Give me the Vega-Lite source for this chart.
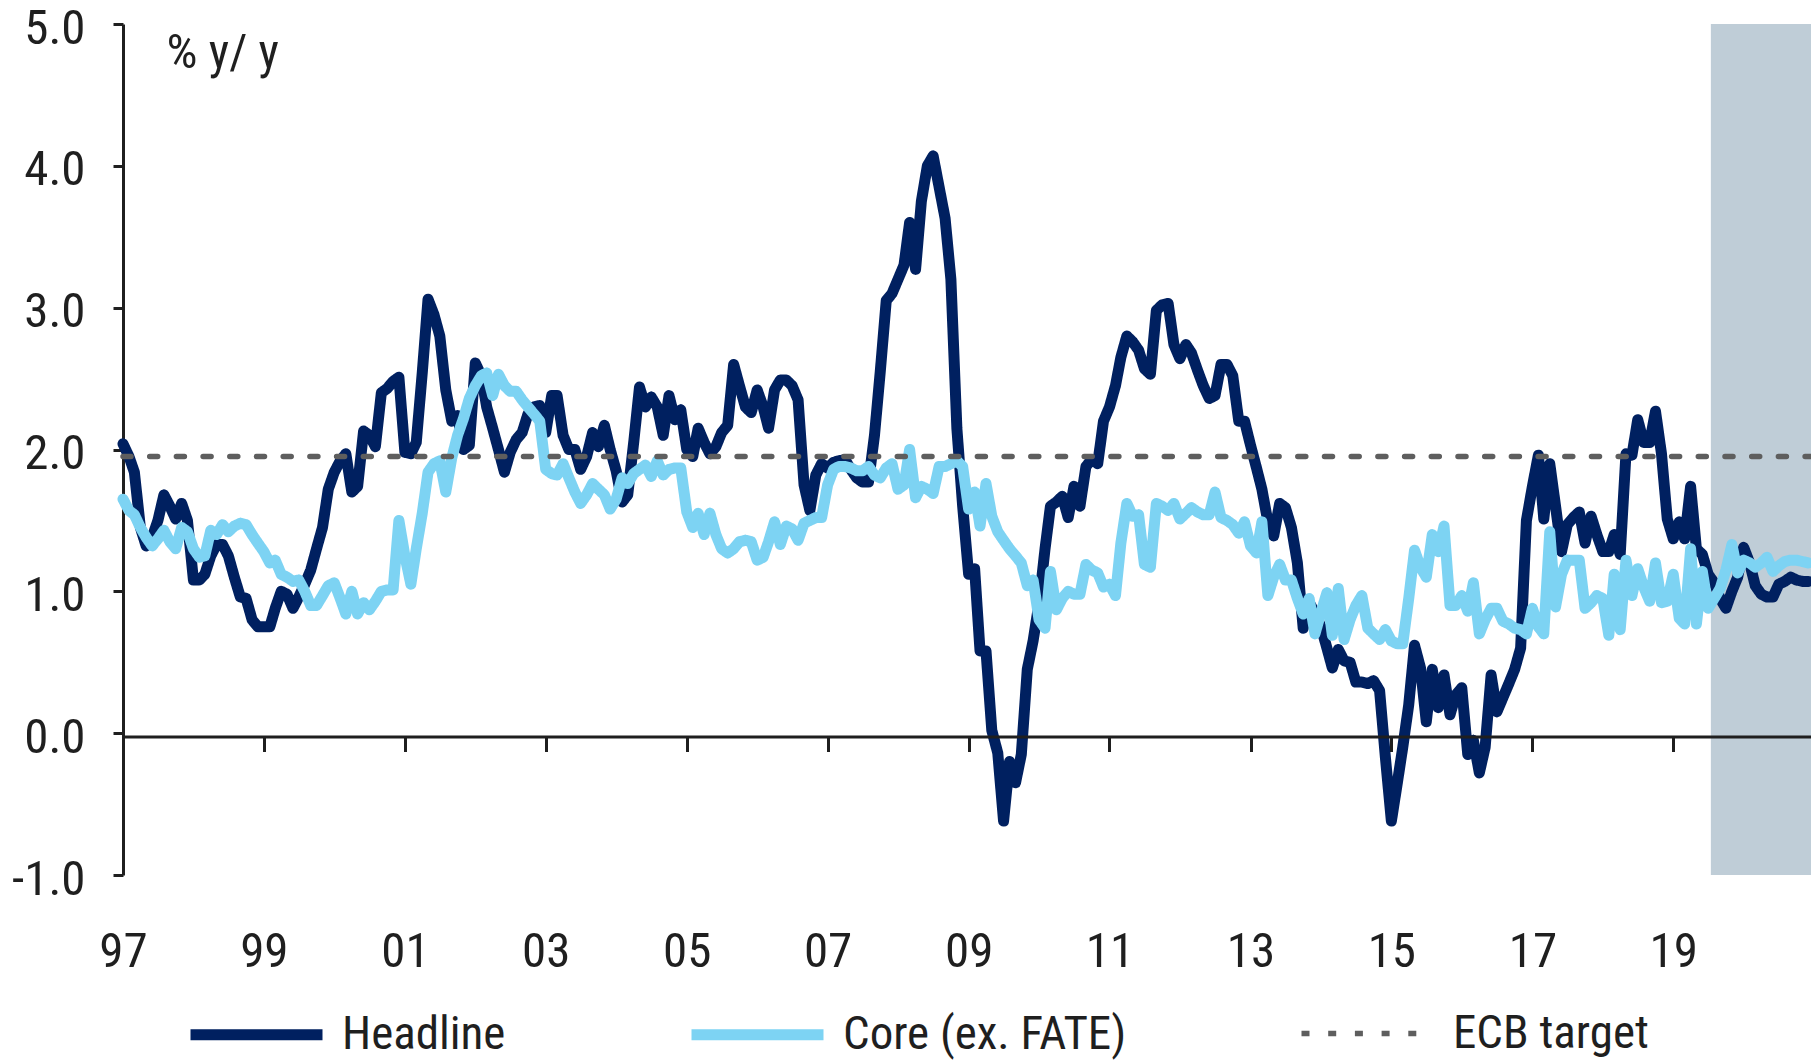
{
  "$schema": "https://vega.github.io/schema/vega-lite/v6.json",
  "width": 1688,
  "height": 851,
  "autosize": {"type": "none"},
  "padding": {"left": 123, "top": 24, "right": 0, "bottom": 185},
  "background": "white",
  "config": {
    "view": {"stroke": null},
    "font": "Liberation Sans Narrow, Arial Narrow, Roboto Condensed, Noto Sans Condensed, Open Sans Condensed, DejaVu Sans Condensed, sans-serif",
    "axisX": {"zindex": 1}
  },
  "datasets": {
    "forecast": [{"period": "Forecast"}],
    "target": [
      {"date": "1997-01-01", "value": 1.95, "series": "ECB target"},
      {"date": "2020-12-15", "value": 1.95, "series": "ECB target"}
    ],
    "monthly": [
      {"date":"1997-01","Headline":2.04,"Core":1.65},{"date":"1997-02","Headline":1.95,"Core":1.57},{"date":"1997-03","Headline":1.84,"Core":1.54},{"date":"1997-04","Headline":1.45,"Core":1.45},{"date":"1997-05","Headline":1.32,"Core":1.38},{"date":"1997-06","Headline":1.38,"Core":1.32},{"date":"1997-07","Headline":1.5,"Core":1.37},{"date":"1997-08","Headline":1.68,"Core":1.43},{"date":"1997-09","Headline":1.6,"Core":1.35},{"date":"1997-10","Headline":1.51,"Core":1.3},{"date":"1997-11","Headline":1.62,"Core":1.45},{"date":"1997-12","Headline":1.5,"Core":1.42},
      {"date":"1998-01","Headline":1.08,"Core":1.3},{"date":"1998-02","Headline":1.08,"Core":1.24},{"date":"1998-03","Headline":1.12,"Core":1.25},{"date":"1998-04","Headline":1.25,"Core":1.43},{"date":"1998-05","Headline":1.33,"Core":1.4},{"date":"1998-06","Headline":1.33,"Core":1.47},{"date":"1998-07","Headline":1.25,"Core":1.42},{"date":"1998-08","Headline":1.1,"Core":1.46},{"date":"1998-09","Headline":0.96,"Core":1.48},{"date":"1998-10","Headline":0.95,"Core":1.47},{"date":"1998-11","Headline":0.8,"Core":1.4},{"date":"1998-12","Headline":0.75,"Core":1.34},
      {"date":"1999-01","Headline":0.75,"Core":1.28},{"date":"1999-02","Headline":0.75,"Core":1.2},{"date":"1999-03","Headline":0.88,"Core":1.22},{"date":"1999-04","Headline":1.0,"Core":1.12},{"date":"1999-05","Headline":0.98,"Core":1.1},{"date":"1999-06","Headline":0.88,"Core":1.07},{"date":"1999-07","Headline":0.96,"Core":1.08},{"date":"1999-08","Headline":1.05,"Core":1.0},{"date":"1999-09","Headline":1.15,"Core":0.9},{"date":"1999-10","Headline":1.3,"Core":0.9},{"date":"1999-11","Headline":1.45,"Core":0.97},{"date":"1999-12","Headline":1.72,"Core":1.04},
      {"date":"2000-01","Headline":1.84,"Core":1.06},{"date":"2000-02","Headline":1.92,"Core":0.95},{"date":"2000-03","Headline":1.97,"Core":0.84},{"date":"2000-04","Headline":1.7,"Core":1.0},{"date":"2000-05","Headline":1.74,"Core":0.84},{"date":"2000-06","Headline":2.13,"Core":0.92},{"date":"2000-07","Headline":2.1,"Core":0.87},{"date":"2000-08","Headline":2.02,"Core":0.93},{"date":"2000-09","Headline":2.4,"Core":1.0},{"date":"2000-10","Headline":2.43,"Core":1.01},{"date":"2000-11","Headline":2.48,"Core":1.01},{"date":"2000-12","Headline":2.51,"Core":1.5},
      {"date":"2001-01","Headline":1.98,"Core":1.25},{"date":"2001-02","Headline":1.97,"Core":1.05},{"date":"2001-03","Headline":2.05,"Core":1.3},{"date":"2001-04","Headline":2.54,"Core":1.55},{"date":"2001-05","Headline":3.06,"Core":1.84},{"date":"2001-06","Headline":2.95,"Core":1.9},{"date":"2001-07","Headline":2.8,"Core":1.92},{"date":"2001-08","Headline":2.42,"Core":1.7},{"date":"2001-09","Headline":2.2,"Core":1.94},{"date":"2001-10","Headline":2.24,"Core":2.1},{"date":"2001-11","Headline":2.0,"Core":2.22},{"date":"2001-12","Headline":2.03,"Core":2.36},
      {"date":"2002-01","Headline":2.61,"Core":2.45},{"date":"2002-02","Headline":2.52,"Core":2.52},{"date":"2002-03","Headline":2.3,"Core":2.54},{"date":"2002-04","Headline":2.15,"Core":2.38},{"date":"2002-05","Headline":2.0,"Core":2.53},{"date":"2002-06","Headline":1.84,"Core":2.45},{"date":"2002-07","Headline":1.98,"Core":2.41},{"date":"2002-08","Headline":2.07,"Core":2.41},{"date":"2002-09","Headline":2.12,"Core":2.35},{"date":"2002-10","Headline":2.25,"Core":2.3},{"date":"2002-11","Headline":2.3,"Core":2.25},{"date":"2002-12","Headline":2.31,"Core":2.2},
      {"date":"2003-01","Headline":2.12,"Core":1.86},{"date":"2003-02","Headline":2.38,"Core":1.83},{"date":"2003-03","Headline":2.38,"Core":1.82},{"date":"2003-04","Headline":2.1,"Core":1.9},{"date":"2003-05","Headline":2.0,"Core":1.8},{"date":"2003-06","Headline":2.0,"Core":1.7},{"date":"2003-07","Headline":1.86,"Core":1.62},{"date":"2003-08","Headline":1.95,"Core":1.68},{"date":"2003-09","Headline":2.12,"Core":1.76},{"date":"2003-10","Headline":2.02,"Core":1.72},{"date":"2003-11","Headline":2.17,"Core":1.68},{"date":"2003-12","Headline":2.0,"Core":1.58},
      {"date":"2004-01","Headline":1.85,"Core":1.65},{"date":"2004-02","Headline":1.63,"Core":1.8},{"date":"2004-03","Headline":1.68,"Core":1.76},{"date":"2004-04","Headline":2.05,"Core":1.83},{"date":"2004-05","Headline":2.44,"Core":1.86},{"date":"2004-06","Headline":2.3,"Core":1.89},{"date":"2004-07","Headline":2.37,"Core":1.81},{"date":"2004-08","Headline":2.3,"Core":1.92},{"date":"2004-09","Headline":2.1,"Core":1.82},{"date":"2004-10","Headline":2.38,"Core":1.86},{"date":"2004-11","Headline":2.21,"Core":1.87},{"date":"2004-12","Headline":2.28,"Core":1.87},
      {"date":"2005-01","Headline":2.0,"Core":1.56},{"date":"2005-02","Headline":1.95,"Core":1.45},{"date":"2005-03","Headline":2.15,"Core":1.55},{"date":"2005-04","Headline":2.05,"Core":1.4},{"date":"2005-05","Headline":1.97,"Core":1.55},{"date":"2005-06","Headline":2.02,"Core":1.4},{"date":"2005-07","Headline":2.12,"Core":1.3},{"date":"2005-08","Headline":2.17,"Core":1.27},{"date":"2005-09","Headline":2.6,"Core":1.3},{"date":"2005-10","Headline":2.45,"Core":1.35},{"date":"2005-11","Headline":2.3,"Core":1.36},{"date":"2005-12","Headline":2.26,"Core":1.35},
      {"date":"2006-01","Headline":2.42,"Core":1.22},{"date":"2006-02","Headline":2.3,"Core":1.24},{"date":"2006-03","Headline":2.15,"Core":1.35},{"date":"2006-04","Headline":2.42,"Core":1.49},{"date":"2006-05","Headline":2.49,"Core":1.33},{"date":"2006-06","Headline":2.49,"Core":1.46},{"date":"2006-07","Headline":2.45,"Core":1.44},{"date":"2006-08","Headline":2.35,"Core":1.36},{"date":"2006-09","Headline":1.75,"Core":1.48},{"date":"2006-10","Headline":1.57,"Core":1.5},{"date":"2006-11","Headline":1.82,"Core":1.52},{"date":"2006-12","Headline":1.9,"Core":1.52},
      {"date":"2007-01","Headline":1.87,"Core":1.75},{"date":"2007-02","Headline":1.91,"Core":1.86},{"date":"2007-03","Headline":1.92,"Core":1.88},{"date":"2007-04","Headline":1.93,"Core":1.88},{"date":"2007-05","Headline":1.86,"Core":1.87},{"date":"2007-06","Headline":1.8,"Core":1.85},{"date":"2007-07","Headline":1.77,"Core":1.85},{"date":"2007-08","Headline":1.77,"Core":1.88},{"date":"2007-09","Headline":2.1,"Core":1.82},{"date":"2007-10","Headline":2.55,"Core":1.8},{"date":"2007-11","Headline":3.05,"Core":1.87},{"date":"2007-12","Headline":3.1,"Core":1.9},
      {"date":"2008-01","Headline":3.2,"Core":1.72},{"date":"2008-02","Headline":3.3,"Core":1.75},{"date":"2008-03","Headline":3.6,"Core":2.0},{"date":"2008-04","Headline":3.27,"Core":1.66},{"date":"2008-05","Headline":3.75,"Core":1.74},{"date":"2008-06","Headline":4.0,"Core":1.72},{"date":"2008-07","Headline":4.07,"Core":1.69},{"date":"2008-08","Headline":3.85,"Core":1.88},{"date":"2008-09","Headline":3.63,"Core":1.88},{"date":"2008-10","Headline":3.2,"Core":1.9},{"date":"2008-11","Headline":2.15,"Core":1.92},{"date":"2008-12","Headline":1.6,"Core":1.88},
      {"date":"2009-01","Headline":1.12,"Core":1.58},{"date":"2009-02","Headline":1.16,"Core":1.7},{"date":"2009-03","Headline":0.58,"Core":1.46},{"date":"2009-04","Headline":0.58,"Core":1.76},{"date":"2009-05","Headline":0.02,"Core":1.53},{"date":"2009-06","Headline":-0.14,"Core":1.42},{"date":"2009-07","Headline":-0.62,"Core":1.36},{"date":"2009-08","Headline":-0.2,"Core":1.3},{"date":"2009-09","Headline":-0.35,"Core":1.25},{"date":"2009-10","Headline":-0.15,"Core":1.2},{"date":"2009-11","Headline":0.45,"Core":1.04},{"date":"2009-12","Headline":0.65,"Core":1.08},
      {"date":"2010-01","Headline":0.92,"Core":0.8},{"date":"2010-02","Headline":1.3,"Core":0.74},{"date":"2010-03","Headline":1.6,"Core":1.14},{"date":"2010-04","Headline":1.63,"Core":0.87},{"date":"2010-05","Headline":1.67,"Core":0.95},{"date":"2010-06","Headline":1.52,"Core":1.0},{"date":"2010-07","Headline":1.74,"Core":0.98},{"date":"2010-08","Headline":1.6,"Core":0.98},{"date":"2010-09","Headline":1.88,"Core":1.19},{"date":"2010-10","Headline":1.93,"Core":1.15},{"date":"2010-11","Headline":1.9,"Core":1.13},{"date":"2010-12","Headline":2.2,"Core":1.03},
      {"date":"2011-01","Headline":2.3,"Core":1.05},{"date":"2011-02","Headline":2.45,"Core":0.97},{"date":"2011-03","Headline":2.65,"Core":1.34},{"date":"2011-04","Headline":2.8,"Core":1.62},{"date":"2011-05","Headline":2.76,"Core":1.53},{"date":"2011-06","Headline":2.7,"Core":1.54},{"date":"2011-07","Headline":2.57,"Core":1.19},{"date":"2011-08","Headline":2.53,"Core":1.17},{"date":"2011-09","Headline":2.98,"Core":1.62},{"date":"2011-10","Headline":3.02,"Core":1.6},{"date":"2011-11","Headline":3.03,"Core":1.57},{"date":"2011-12","Headline":2.74,"Core":1.62},
      {"date":"2012-01","Headline":2.64,"Core":1.51},{"date":"2012-02","Headline":2.74,"Core":1.55},{"date":"2012-03","Headline":2.68,"Core":1.59},{"date":"2012-04","Headline":2.56,"Core":1.56},{"date":"2012-05","Headline":2.45,"Core":1.54},{"date":"2012-06","Headline":2.36,"Core":1.54},{"date":"2012-07","Headline":2.38,"Core":1.7},{"date":"2012-08","Headline":2.6,"Core":1.52},{"date":"2012-09","Headline":2.6,"Core":1.5},{"date":"2012-10","Headline":2.52,"Core":1.47},{"date":"2012-11","Headline":2.2,"Core":1.41},{"date":"2012-12","Headline":2.2,"Core":1.49},
      {"date":"2013-01","Headline":2.03,"Core":1.32},{"date":"2013-02","Headline":1.87,"Core":1.27},{"date":"2013-03","Headline":1.72,"Core":1.49},{"date":"2013-04","Headline":1.49,"Core":0.97},{"date":"2013-05","Headline":1.39,"Core":1.1},{"date":"2013-06","Headline":1.62,"Core":1.19},{"date":"2013-07","Headline":1.59,"Core":1.08},{"date":"2013-08","Headline":1.45,"Core":1.08},{"date":"2013-09","Headline":1.2,"Core":0.95},{"date":"2013-10","Headline":0.74,"Core":0.84},{"date":"2013-11","Headline":0.92,"Core":0.95},{"date":"2013-12","Headline":0.85,"Core":0.7},
      {"date":"2014-01","Headline":0.75,"Core":0.85},{"date":"2014-02","Headline":0.6,"Core":0.99},{"date":"2014-03","Headline":0.46,"Core":0.69},{"date":"2014-04","Headline":0.59,"Core":1.02},{"date":"2014-05","Headline":0.51,"Core":0.66},{"date":"2014-06","Headline":0.5,"Core":0.8},{"date":"2014-07","Headline":0.36,"Core":0.9},{"date":"2014-08","Headline":0.36,"Core":0.97},{"date":"2014-09","Headline":0.35,"Core":0.74},{"date":"2014-10","Headline":0.37,"Core":0.7},{"date":"2014-11","Headline":0.3,"Core":0.66},{"date":"2014-12","Headline":-0.17,"Core":0.73},
      {"date":"2015-01","Headline":-0.62,"Core":0.65},{"date":"2015-02","Headline":-0.35,"Core":0.63},{"date":"2015-03","Headline":-0.1,"Core":0.63},{"date":"2015-04","Headline":0.2,"Core":0.95},{"date":"2015-05","Headline":0.62,"Core":1.29},{"date":"2015-06","Headline":0.46,"Core":1.17},{"date":"2015-07","Headline":0.08,"Core":1.1},{"date":"2015-08","Headline":0.45,"Core":1.4},{"date":"2015-09","Headline":0.18,"Core":1.28},{"date":"2015-10","Headline":0.41,"Core":1.46},{"date":"2015-11","Headline":0.13,"Core":0.9},{"date":"2015-12","Headline":0.27,"Core":0.9},
      {"date":"2016-01","Headline":0.32,"Core":0.97},{"date":"2016-02","Headline":-0.15,"Core":0.86},{"date":"2016-03","Headline":-0.05,"Core":1.06},{"date":"2016-04","Headline":-0.28,"Core":0.7},{"date":"2016-05","Headline":-0.1,"Core":0.8},{"date":"2016-06","Headline":0.41,"Core":0.88},{"date":"2016-07","Headline":0.15,"Core":0.88},{"date":"2016-08","Headline":0.25,"Core":0.79},{"date":"2016-09","Headline":0.35,"Core":0.77},{"date":"2016-10","Headline":0.45,"Core":0.74},{"date":"2016-11","Headline":0.6,"Core":0.73},{"date":"2016-12","Headline":1.5,"Core":0.7},
      {"date":"2017-01","Headline":1.74,"Core":0.88},{"date":"2017-02","Headline":1.96,"Core":0.75},{"date":"2017-03","Headline":1.51,"Core":0.7},{"date":"2017-04","Headline":1.9,"Core":1.42},{"date":"2017-05","Headline":1.6,"Core":0.89},{"date":"2017-06","Headline":1.28,"Core":1.12},{"date":"2017-07","Headline":1.47,"Core":1.22},{"date":"2017-08","Headline":1.52,"Core":1.22},{"date":"2017-09","Headline":1.56,"Core":1.22},{"date":"2017-10","Headline":1.34,"Core":0.88},{"date":"2017-11","Headline":1.53,"Core":0.92},{"date":"2017-12","Headline":1.4,"Core":0.97},
      {"date":"2018-01","Headline":1.28,"Core":0.95},{"date":"2018-02","Headline":1.28,"Core":0.69},{"date":"2018-03","Headline":1.4,"Core":1.12},{"date":"2018-04","Headline":1.26,"Core":0.73},{"date":"2018-05","Headline":1.97,"Core":1.22},{"date":"2018-06","Headline":1.96,"Core":0.97},{"date":"2018-07","Headline":2.21,"Core":1.16},{"date":"2018-08","Headline":2.05,"Core":1.03},{"date":"2018-09","Headline":2.05,"Core":0.93},{"date":"2018-10","Headline":2.27,"Core":1.2},{"date":"2018-11","Headline":1.97,"Core":0.92},{"date":"2018-12","Headline":1.51,"Core":0.93},
      {"date":"2019-01","Headline":1.37,"Core":1.12},{"date":"2019-02","Headline":1.49,"Core":0.81},{"date":"2019-03","Headline":1.37,"Core":0.77},{"date":"2019-04","Headline":1.74,"Core":1.3},{"date":"2019-05","Headline":1.3,"Core":0.77},{"date":"2019-06","Headline":1.26,"Core":1.14},{"date":"2019-07","Headline":1.12,"Core":0.88},{"date":"2019-08","Headline":1.06,"Core":0.95},{"date":"2019-09","Headline":0.95,"Core":1.02},{"date":"2019-10","Headline":0.88,"Core":1.15},{"date":"2019-11","Headline":1.0,"Core":1.33},{"date":"2019-12","Headline":1.1,"Core":1.13},
      {"date":"2020-01","Headline":1.31,"Core":1.22},{"date":"2020-02","Headline":1.2,"Core":1.2},{"date":"2020-03","Headline":1.04,"Core":1.17},{"date":"2020-04","Headline":0.98,"Core":1.2},{"date":"2020-05","Headline":0.96,"Core":1.24},{"date":"2020-06","Headline":0.96,"Core":1.14},{"date":"2020-07","Headline":1.05,"Core":1.18},{"date":"2020-08","Headline":1.07,"Core":1.21},{"date":"2020-09","Headline":1.1,"Core":1.22},{"date":"2020-10","Headline":1.08,"Core":1.22},{"date":"2020-11","Headline":1.07,"Core":1.21},{"date":"2020-12","Headline":1.07,"Core":1.2}
    ]
  },
  "layer": [
    {
      "data": {"name": "forecast"},
      "mark": {"type": "rect", "fill": "#BFCDD7"},
      "encoding": {
        "x": {
          "datum": {"year": 2019, "month": 7, "date": 15, "utc": true},
          "type": "temporal",
          "axis": {"zindex": 1}
        },
        "x2": {"datum": {"year": 2020, "month": 12, "date": 15, "utc": true}}
      }
    },
    {
      "encoding": {
        "x": {
          "field": "date",
          "type": "temporal",
          "scale": {
            "type": "utc",
            "domain": [
              {"year": 1997, "month": 1, "date": 1, "utc": true},
              {"year": 2020, "month": 12, "date": 15, "utc": true}
            ]
          },
          "axis": {
            "title": null,
            "orient": "bottom",
            "offset": -138.5,
            "zindex": 1,
            "values": [
              {"year": 1997, "month": 1, "date": 1, "utc": true},
              {"year": 1999, "month": 1, "date": 1, "utc": true},
              {"year": 2001, "month": 1, "date": 1, "utc": true},
              {"year": 2003, "month": 1, "date": 1, "utc": true},
              {"year": 2005, "month": 1, "date": 1, "utc": true},
              {"year": 2007, "month": 1, "date": 1, "utc": true},
              {"year": 2009, "month": 1, "date": 1, "utc": true},
              {"year": 2011, "month": 1, "date": 1, "utc": true},
              {"year": 2013, "month": 1, "date": 1, "utc": true},
              {"year": 2015, "month": 1, "date": 1, "utc": true},
              {"year": 2017, "month": 1, "date": 1, "utc": true},
              {"year": 2019, "month": 1, "date": 1, "utc": true}
            ],
            "format": "%y",
            "grid": false,
            "domain": true,
            "domainColor": "#1F1F1F",
            "domainWidth": 3,
            "ticks": true,
            "tickColor": "#1F1F1F",
            "tickWidth": 3,
            "tickSize": 15,
            "labelFontSize": 49,
            "labelColor": "#1F1F1F",
            "labelPadding": 176,
            "labelFlush": false,
            "labelOverlap": false,
            "labelBound": false
          }
        },
        "y": {
          "field": "value",
          "type": "quantitative",
          "scale": {"domain": [-1, 5], "nice": false, "zero": false},
          "axis": {
            "title": "% y/ y",
            "titleAngle": 0,
            "titleAlign": "left",
            "titleBaseline": "alphabetic",
            "titleX": 43,
            "titleY": 43,
            "titleFontSize": 49,
            "titleFontWeight": "normal",
            "titleColor": "#1F1F1F",
            "values": [-1, 0, 1, 2, 3, 4, 5],
            "labelExpr": "datum.value < 0 ? '-' + format(-datum.value, '.1f') : format(datum.value, '.1f')",
            "grid": false,
            "domainColor": "#1F1F1F",
            "domainWidth": 3,
            "tickColor": "#1F1F1F",
            "tickWidth": 3,
            "tickSize": 10,
            "labelFontSize": 49,
            "labelColor": "#1F1F1F",
            "labelPadding": 28,
            "labelOffset": 4,
            "labelFlush": false,
            "labelOverlap": false,
            "labelBound": false
          }
        },
        "color": {
          "field": "series",
          "type": "nominal",
          "scale": {"domain": ["Headline", "Core", "ECB target"], "range": ["#002060", "#7DD3F3", "#5E5E5E"]},
          "legend": {"title": null, "orient": "none", "legendX": 62, "legendY": 939, "direction": "horizontal", "columns": 3, "symbolType": "stroke", "symbolSize": 17424, "labelFontSize": 47, "labelColor": "#1F1F1F", "labelOffset": 14, "labelLimit": 1000, "columnPadding": 163, "padding": 0, "labelExpr": "datum.label == 'Core' ? 'Core (ex. FATE)' : datum.label"}
        },
        "strokeDash": {
          "field": "series",
          "type": "nominal",
          "scale": {"domain": ["Headline", "Core", "ECB target"], "range": [[1, 0], [1, 0], [8, 18.7]]},
          "legend": {"title": null, "orient": "none", "legendX": 62, "legendY": 939, "direction": "horizontal", "columns": 3, "symbolType": "stroke", "symbolSize": 17424, "labelFontSize": 47, "labelColor": "#1F1F1F", "labelOffset": 14, "labelLimit": 1000, "columnPadding": 163, "padding": 0, "labelExpr": "datum.label == 'Core' ? 'Core (ex. FATE)' : datum.label"}
        },
        "strokeWidth": {
          "field": "series",
          "type": "nominal",
          "scale": {"type": "ordinal", "domain": ["Headline", "Core", "ECB target"], "range": [11, 11, 5.5]},
          "legend": {"title": null, "orient": "none", "legendX": 62, "legendY": 939, "direction": "horizontal", "columns": 3, "symbolType": "stroke", "symbolSize": 17424, "labelFontSize": 47, "labelColor": "#1F1F1F", "labelOffset": 14, "labelLimit": 1000, "columnPadding": 163, "padding": 0, "labelExpr": "datum.label == 'Core' ? 'Core (ex. FATE)' : datum.label"}
        }
      },
      "layer": [
        {
          "data": {"name": "monthly"},
          "transform": [{"fold": ["Headline", "Core"], "as": ["series", "value"]}],
          "mark": {"type": "line", "strokeCap": "round", "strokeJoin": "round"}
        },
        {
          "data": {"name": "target"},
          "mark": {"type": "line", "strokeCap": "round"}
        }
      ]
    }
  ]
}
